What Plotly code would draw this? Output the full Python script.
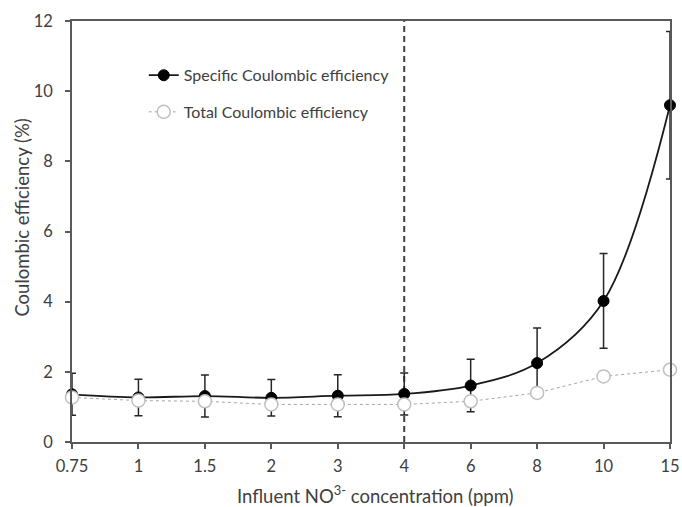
import plotly.graph_objects as go

categories = ["0.75", "1", "1.5", "2", "3", "4", "6", "8", "10", "15"]
specific_ce = [1.36, 1.27, 1.31, 1.26, 1.32, 1.37, 1.61, 2.25, 4.02, 9.6]
specific_err = [0.60, 0.52, 0.60, 0.52, 0.60, 0.60, 0.75, 1.00, 1.35, 2.10]
total_ce = [1.27, 1.18, 1.16, 1.07, 1.07, 1.07, 1.16, 1.40, 1.87, 2.06]
threshold_cat = ["4", "4"]
threshold_y = [0, 12]
y_ticks = [0, 2, 4, 6, 8, 10, 12]

font_family = "Lato, 'Open Sans', sans-serif"
text_color = "#404040"
axis_color = "#595959"

fig = go.Figure()

fig.add_trace(go.Scatter(
    x=threshold_cat, y=threshold_y, mode="lines",
    line=dict(color="#404040", width=2, dash="6px,4px"),
    showlegend=False, hoverinfo="skip", cliponaxis=False,
))

fig.add_trace(go.Scatter(
    x=categories, y=specific_ce, mode="lines+markers",
    name="Specific Coulombic efficiency",
    line=dict(color="#1a1a1a", width=1.8, shape="spline", smoothing=1),
    marker=dict(color="#000000", size=11, line=dict(color="#000000", width=1)),
    error_y=dict(type="data", array=specific_err, visible=True,
                 color="#262626", thickness=1.5, width=4),
    cliponaxis=False, legend="legend",
))

fig.add_trace(go.Scatter(
    x=categories, y=total_ce, mode="lines+markers",
    name="Total Coulombic efficiency",
    line=dict(color="#a6a6a6", width=1, dash="dot"),
    marker=dict(color="#ffffff", size=13, line=dict(color="#bfbfbf", width=1.5)),
    cliponaxis=False, legend="legend2",
))

fig.update_layout(
    width=682, height=507, autosize=False,
    margin=dict(l=72, r=12, t=21, b=65, autoexpand=False),
    paper_bgcolor="white", plot_bgcolor="white",
    font=dict(family=font_family, size=14, color=text_color),
    legend=dict(x=0.12, y=0.871, xanchor="left", yanchor="middle",
                bgcolor="rgba(0,0,0,0)", font=dict(size=16, color=text_color)),
    legend2=dict(x=0.12, y=0.784, xanchor="left", yanchor="middle",
                 bgcolor="rgba(0,0,0,0)", font=dict(size=16, color=text_color)),
    xaxis=dict(
        type="category", categoryorder="array", categoryarray=categories,
        range=[0, 9], showgrid=False, zeroline=False, automargin=False,
        showline=True, linecolor=axis_color, linewidth=1.5, mirror=True,
        ticks="outside", ticklen=5, tickcolor=axis_color, tickwidth=1.5,
        tickfont=dict(size=16.5, color=text_color), ticklabeloverflow="allow",
        ticklabelstandoff=3,
    ),
    yaxis=dict(
        range=[0, 12], tickvals=y_ticks, showgrid=False, zeroline=False,
        automargin=False,
        showline=True, linecolor=axis_color, linewidth=1.5, mirror=True,
        ticks="outside", ticklen=5, tickcolor=axis_color, tickwidth=1.5,
        tickfont=dict(size=16.5, color=text_color), ticklabelstandoff=9,
    ),
    annotations=[
        dict(text="Coulombic efficiency (%)", textangle=-90,
             xref="paper", yref="paper", x=-0.083, y=0.534,
             xanchor="center", yanchor="middle", showarrow=False,
             font=dict(size=18.5, color=text_color)),
        dict(text="Influent NO<sup>3-</sup> concentration (ppm)",
             xref="paper", yref="paper", x=0.507, y=-0.125,
             xanchor="center", yanchor="middle", showarrow=False,
             font=dict(size=18.5, color=text_color)),
    ],
)

fig.write_html(
    "out.html",
    config={"responsive": False, "displayModeBar": False},
    post_script="document.body.style.margin='0px';document.body.style.overflow='hidden';",
)
